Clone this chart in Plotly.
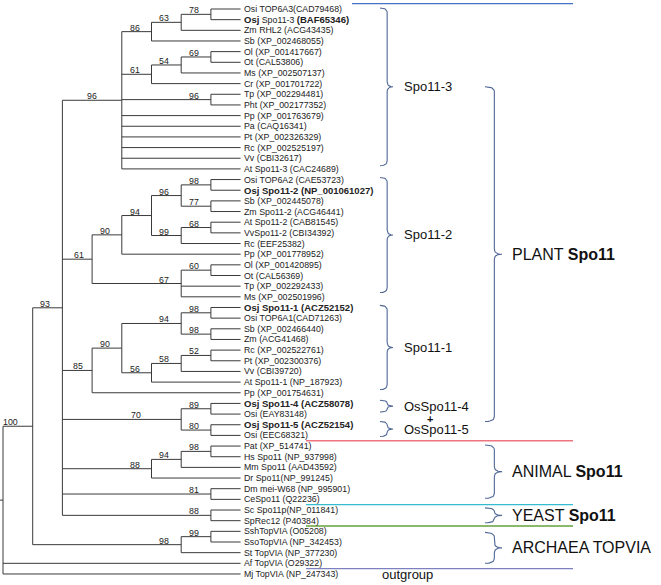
import plotly.graph_objects as go

# ---------------- data ----------------
taxa = [
    "Osi TOP6A3(CAD79468)", "<b>Osj</b> Spo11-3 <b>(BAF65346)</b>", "Zm RHL2 (ACG43435)",
    "Sb (XP_002468055)", "Ol (XP_001417667)", "Ot (CAL53806)", "Ms (XP_002507137)",
    "Cr (XP_001701722)", "Tp (XP_002294481)", "Pht (XP_002177352)", "Pp (XP_001763679)",
    "Pa (CAQ16341)", "Pt (XP_002326329)", "Rc (XP_002525197)", "Vv (CBI32617)",
    "At Spo11-3 (CAC24689)", "Osi TOP6A2 (CAE53723)", "<b>Osj Spo11-2 (NP_001061027)</b>",
    "Sb (XP_002445078)", "Zm Spo11-2 (ACG46441)", "At Spo11-2 (CAB81545)",
    "VvSpo11-2 (CBI34392)", "Rc (EEF25382)", "Pp (XP_001778952)", "Ol (XP_001420895)",
    "Ot (CAL56369)", "Tp (XP_002292433)", "Ms (XP_002501996)",
    "<b>Osj Spo11-1 (ACZ52152)</b>", "Osi TOP6A1(CAD71263)", "Sb (XP_002466440)",
    "Zm (ACG41468)", "Rc (XP_002522761)", "Pt (XP_002300376)", "Vv (CBI39720)",
    "At Spo11-1 (NP_187923)", "Pp (XP_001754631)", "<b>Osj Spo11-4 (ACZ58078)</b>",
    "Osi (EAY83148)", "<b>Osj Spo11-5 (ACZ52154)</b>", "Osi (EEC68321)",
    "Pat (XP_514741)", "Hs Spo11 (NP_937998)", "Mm Spo11 (AAD43592)", "Dr Spo11(NP_991245)",
    "Dm mei-W68 (NP_995901)", "CeSpo11 (Q22236)", "Sc Spo11p(NP_011841)", "SpRec12 (P40384)",
    "SshTopVIA (O05208)", "SsoTopVIA (NP_342453)", "St TopVIA (NP_377230)",
    "Af TopVIA (O29322)", "Mj TopVIA (NP_247343)",
]

# topology with bootstrap supports (leaf numbers index into taxa)
spo11_3 = "(((((0,1)78,2)63,3)86,(((4,5)69,6)54,7)61,(8,9)96,10,11,12,13,14,15)96"
spo11_2 = "(((((16,17)98,(18,19)77)96,((20,21)68,22)99)94,23)90,((24,25)60,26,27)67)61"
spo11_1 = "((((28,29)98,(30,31)98)94,(((32,33)52,34)58,35)56)90,36)85"
spo11_45 = "((37,38)89,(39,40)80)70"
animal = "(((41,42)98,43)94,44)88,(45,46)81"
yeast = "(47,48)88"
archaea = "((49,50)99,51)98"
newick = "(((" + ",".join([spo11_3, spo11_2, spo11_1, spo11_45, animal, yeast]) + ")93," \
         + archaea + ")100,52,53);"

clade_names = ["Spo11-3", "Spo11-2", "Spo11-1", "OsSpo11-4", "OsSpo11-5"]
clade_spans = [(-0.1, 14.7), (15.8, 26.6), (27.8, 35.7), (36.7, 37.8), (38.7, 40.1)]
group_names = ["PLANT <b>Spo11</b>", "ANIMAL <b>Spo11</b>", "YEAST <b>Spo11</b>", "ARCHAEA TOPVIA"]
group_spans = [(7.3, 38.7), (40.9, 45.9), (46.8, 48.2), (49.1, 52.0)]
separator_after = [-1, 40, 46, 48, 52]
separator_colors = ["#4472C4", "#EE7480", "#35BCD0", "#63A23C", "#7E80C0"]

# ---------------- parse tree ----------------
def parse(s, i=0):
    if s[i] == "(":
        i += 1
        kids = []
        while True:
            c, i = parse(s, i)
            kids.append(c)
            if s[i] == ",":
                i += 1
                continue
            i += 1
            break
        j = i
        while j < len(s) and s[j] not in ",);":
            j += 1
        lab = s[i:j]
        return {"kids": kids, "sup": lab if lab else None}, j
    j = i
    while s[j] not in ",);":
        j += 1
    return {"leaf": int(s[i:j])}, j

root, _ = parse(newick)

LEAF_LEVEL = 8
def layout(n):
    if "leaf" in n:
        n["lv"] = LEAF_LEVEL
        n["y"] = n["leaf"]
        n["first"] = n["leaf"]
        return
    for k in n["kids"]:
        layout(k)
    n["lv"] = min(k["lv"] for k in n["kids"]) - 1
    n["y"] = (n["kids"][0]["y"] + n["kids"][-1]["y"]) / 2
    n["first"] = n["kids"][0]["first"]

layout(root)

# pixel mapping (axes are set up in pixel units)
X0, DX = 3.0, 29.7
Y0, DY = 9.0, 10.66
def px(lv):
    return X0 + lv * DX
def py(idx):
    return Y0 + idx * DY

xs, ys = [], []
boot = []
def draw(n):
    if "leaf" in n:
        return
    x = px(n["lv"])
    xs.extend([x, x, None]); ys.extend([py(n["kids"][0]["y"]), py(n["kids"][-1]["y"]), None])
    for k in n["kids"]:
        xs.extend([x, px(k["lv"]), None]); ys.extend([py(k["y"]), py(k["y"]), None])
        if "leaf" not in k and k["sup"]:
            boot.append((k["sup"], k["first"], px(k["lv"]), py(k["y"])))
        draw(k)

draw(root)

fig = go.Figure()
fig.add_trace(go.Scatter(x=xs, y=ys, mode="lines", line=dict(color="#3a3a3a", width=1),
                         hoverinfo="skip", showlegend=False))

FONT = "Liberation Sans, Arial, sans-serif"
def fmt(t):
    return t.replace("<b>", "<b><span style=\"font-size:9.5px\">").replace("</b>", "</span></b>")

ann = []
for i, t in enumerate(taxa):
    ann.append(dict(x=px(LEAF_LEVEL) + 1.5, y=py(i), text=fmt(t), xanchor="left", yanchor="middle",
                    showarrow=False, font=dict(size=8.8, family=FONT, color="#222")))

label_off = {("96", 0): 23, ("70", 37): 38, ("61", 16): 6, ("85", 28): 7, ("100", 0): 13}
for sup, first, x, y in boot:
    off = label_off.get((sup, first), 10)
    ann.append(dict(x=x - off, y=y, text=sup, xanchor="right", yanchor="bottom", yshift=-3,
                    showarrow=False, font=dict(size=8.8, family=FONT, color="#222")))

# separator lines
for k, c in zip(separator_after, separator_colors):
    y = py(k + 0.5)
    x_start = 352 if k < 0 else 306
    fig.add_trace(go.Scatter(x=[x_start, 573], y=[y, y], mode="lines",
                             line=dict(color=c, width=1.3), hoverinfo="skip", showlegend=False))

BRACE = "#4F6896"
def brace(x0, w, ytop, ybot):
    ymid = (ytop + ybot) / 2
    xs_ = x0 + w * 0.55
    r = min(5.0, (ybot - ytop) / 4)
    pts = []
    def quad(p0, c, p1, n=10):
        for t in [i / n for i in range(n + 1)]:
            pts.append(((1 - t) ** 2 * p0[0] + 2 * (1 - t) * t * c[0] + t * t * p1[0],
                        (1 - t) ** 2 * p0[1] + 2 * (1 - t) * t * c[1] + t * t * p1[1]))
    quad((x0, ytop), (xs_, ytop), (xs_, ytop + r))
    quad((xs_, ymid - r), (xs_, ymid), (x0 + w, ymid))
    quad((x0 + w, ymid), (xs_, ymid), (xs_, ymid + r))
    quad((xs_, ybot - r), (xs_, ybot), (x0, ybot))
    fig.add_trace(go.Scatter(x=[p[0] for p in pts], y=[p[1] for p in pts], mode="lines",
                             line=dict(color=BRACE, width=1.1), hoverinfo="skip", showlegend=False))
    return ymid

for name, (a, b) in zip(clade_names, clade_spans):
    ym = brace(380, 13, py(a), py(b))
    ann.append(dict(x=402, y=ym, text=name, xanchor="left", yanchor="middle", showarrow=False,
                    font=dict(size=13, family=FONT, color="#111")))

ann.append(dict(x=430, y=(py(clade_spans[3][1]) + py(clade_spans[4][0])) / 2 + 2, text="<b>+</b>",
                xanchor="center", yanchor="middle", showarrow=False,
                font=dict(size=11, family=FONT, color="#111")))

for name, (a, b) in zip(group_names, group_spans):
    ym = brace(485, 17, py(a), py(b))
    ann.append(dict(x=510, y=ym, text=name, xanchor="left", yanchor="middle", showarrow=False,
                    font=dict(size=16, family=FONT, color="#111")))

ann.append(dict(x=380, y=py(53) + 1, text="outgroup", xanchor="left", yanchor="middle", showarrow=False,
                font=dict(size=13, family=FONT, color="#111")))

fig.update_layout(
    width=661, height=585, margin=dict(l=0, r=0, t=0, b=0),
    paper_bgcolor="white", plot_bgcolor="white",
    xaxis=dict(range=[0, 661], visible=False, fixedrange=True),
    yaxis=dict(range=[585, 0], visible=False, fixedrange=True),
    annotations=ann, showlegend=False,
)
fig.write_html("out.html", config={"displayModeBar": False},
               post_script="document.body.style.margin='0';document.body.style.overflow='hidden';")
